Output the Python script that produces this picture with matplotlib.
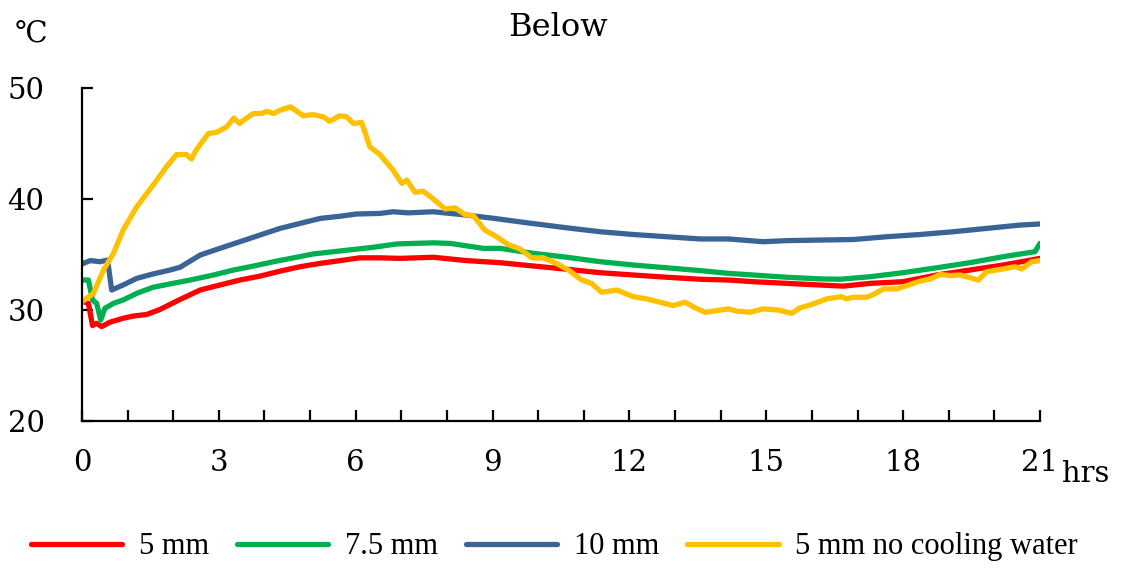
import matplotlib.pyplot as plt
import numpy as np

# temperature below the sample, hours vs degC
t_5mm = [0, 0.14, 0.23, 0.32, 0.43, 0.61, 0.9, 1.12, 1.42, 1.71, 2.15, 2.59, 3.02, 3.46, 3.9,
         4.34, 4.78, 5.22, 5.66, 6.09, 6.53, 6.97, 7.7, 8.43, 9.17, 9.9, 10.63, 11.36, 12.09,
         12.82, 13.55, 14.17, 14.72, 15.45, 16.18, 16.69, 17.28, 18.0, 18.73, 19.46, 20.19, 21.0]
T_5mm = [30.8, 30.6, 28.6, 28.8, 28.5, 28.9, 29.25, 29.45, 29.6, 30.05, 30.95, 31.8, 32.25, 32.7,
         33.05, 33.5, 33.9, 34.2, 34.45, 34.7, 34.7, 34.65, 34.75, 34.45, 34.26, 33.96, 33.67,
         33.36, 33.15, 32.95, 32.77, 32.7, 32.55, 32.4, 32.25, 32.15, 32.4, 32.55, 33.15, 33.6,
         34.05, 34.65]

t_75mm = [0, 0.14, 0.23, 0.32, 0.41, 0.5, 0.69, 0.9, 1.2, 1.56, 1.93, 2.37, 2.88, 3.32, 3.76,
          4.2, 4.64, 5.07, 5.51, 5.95, 6.39, 6.9, 7.7, 8.07, 8.8, 9.17, 9.9, 10.63, 11.36, 12.09,
          12.82, 13.55, 14.17, 14.72, 15.45, 16.18, 16.62, 17.28, 18.0, 18.73, 19.46, 20.19,
          20.89, 21.0]
T_75mm = [32.7, 32.7, 30.9, 30.6, 29.1, 30.15, 30.6, 30.9, 31.5, 32.05, 32.35, 32.7, 33.15, 33.6,
          33.96, 34.35, 34.7, 35.05, 35.25, 35.45, 35.65, 35.95, 36.05, 36.0, 35.55, 35.55, 35.1,
          34.75, 34.35, 34.05, 33.8, 33.55, 33.3, 33.15, 32.95, 32.8, 32.77, 33.0, 33.36, 33.8,
          34.26, 34.8, 35.25, 36.0]

t_10mm = [0, 0.18, 0.4, 0.56, 0.65, 0.9, 1.2, 1.56, 1.93, 2.15, 2.59, 3.02, 3.46, 3.9, 4.34, 4.78,
          5.22, 5.66, 6.02, 6.53, 6.82, 7.15, 7.7, 8.43, 9.02, 9.75, 10.63, 11.36, 12.09, 12.82,
          13.55, 14.17, 14.93, 15.45, 16.18, 16.91, 17.64, 18.37, 19.1, 19.83, 20.56, 21.0]
T_10mm = [34.15, 34.45, 34.35, 34.5, 31.8, 32.25, 32.85, 33.25, 33.6, 33.85, 34.95, 35.55, 36.15,
          36.75, 37.35, 37.8, 38.25, 38.45, 38.65, 38.7, 38.85, 38.75, 38.85, 38.55, 38.26, 37.86,
          37.4, 37.05, 36.8, 36.6, 36.4, 36.4, 36.15, 36.25, 36.3, 36.35, 36.6, 36.8, 37.05,
          37.35, 37.65, 37.75]

t_nocool = [0, 0.25, 0.47, 0.69, 0.9, 1.2, 1.64, 1.85, 2.07, 2.29, 2.4, 2.5, 2.77, 2.95, 3.17,
            3.33, 3.45, 3.61, 3.76, 3.94, 4.05, 4.2, 4.34, 4.57, 4.85, 5.07, 5.29, 5.43, 5.65,
            5.8, 5.95, 6.13, 6.31, 6.53, 6.82, 7.01, 7.12, 7.3, 7.48, 7.7, 7.96, 8.18, 8.39, 8.58,
            8.83, 9.09, 9.34, 9.6, 9.86, 10.11, 10.4, 10.7, 10.95, 11.17, 11.39, 11.72, 12.08,
            12.38, 12.67, 12.96, 13.22, 13.44, 13.66, 13.84, 14.17, 14.35, 14.64, 14.93, 15.26,
            15.56, 15.74, 15.96, 16.32, 16.65, 16.76, 16.91, 17.2, 17.35, 17.57, 17.86, 18.08,
            18.37, 18.59, 18.81, 19.03, 19.25, 19.65, 19.83, 20.19, 20.45, 20.6, 20.82, 21.0]
T_nocool = [30.75, 31.5, 33.6, 35.1, 37.2, 39.3, 41.7, 42.9, 44.0, 44.0, 43.6, 44.4, 45.9, 46.0,
            46.5, 47.3, 46.8, 47.3, 47.7, 47.7, 47.9, 47.7, 48.0, 48.3, 47.5, 47.6, 47.4, 47.0,
            47.5, 47.4, 46.8, 46.9, 44.7, 44.0, 42.6, 41.4, 41.7, 40.6, 40.7, 40.0, 39.1, 39.2,
            38.6, 38.5, 37.2, 36.6, 35.9, 35.5, 34.7, 34.7, 34.2, 33.5, 32.7, 32.4, 31.6, 31.8,
            31.2, 31.0, 30.7, 30.4, 30.7, 30.2, 29.8, 29.9, 30.1, 29.9, 29.8, 30.1, 30.0, 29.7,
            30.2, 30.45, 31.0, 31.2, 31.0, 31.15, 31.15, 31.4, 31.9, 31.9, 32.2, 32.6, 32.8, 33.2,
            33.1, 33.15, 32.7, 33.45, 33.7, 33.9, 33.7, 34.35, 34.45]

series = [
    ("5 mm", t_5mm, T_5mm, "#FF0000"),
    ("7.5 mm", t_75mm, T_75mm, "#00B050"),
    ("10 mm", t_10mm, T_10mm, "#3A6496"),
    ("5 mm no cooling water", t_nocool, T_nocool, "#FFC000"),
]

axis_font = "DejaVu Serif"
legend_font = "Liberation Serif"

fig = plt.figure(figsize=(11.22, 5.68), dpi=100)
ax = fig.add_axes([0.0731, 0.2588, 0.8538, 0.5863])

for label, t, T, c in series:
    ax.plot(t, T, color=c, lw=3.8, label=label, solid_capstyle="round",
            solid_joinstyle="round")

ax.set_xlim(0, 21)
ax.set_ylim(20, 50)
ax.set_xticks(np.arange(0, 22, 3))
ax.set_xticks(np.arange(0, 22, 1), minor=True)
ax.set_yticks([20, 30, 40, 50])

for s in ["top", "right"]:
    ax.spines[s].set_visible(False)
for s in ["left", "bottom"]:
    ax.spines[s].set_linewidth(1.6)

ax.tick_params(axis="both", which="both", direction="in", length=8, width=1.6)
ax.tick_params(axis="x", which="major", pad=20)
ax.tick_params(axis="y", which="major", pad=27)
for lab in ax.get_xticklabels() + ax.get_yticklabels():
    lab.set_fontfamily(axis_font)
    lab.set_fontsize(21)

fig.text(0.497, 0.951, "Below", ha="center", va="center", family=axis_font, fontsize=23)
fig.text(0.028, 0.94, "℃", ha="center", va="center", family=axis_font, fontsize=21)
fig.text(0.968, 0.165, "hrs", ha="center", va="center", family=axis_font, fontsize=21)

fig.legend(loc="center", bbox_to_anchor=(0.494, 0.037), ncol=4, frameon=False,
           prop={"family": legend_font, "size": 22}, handlelength=3.0,
           handletextpad=0.55, columnspacing=0.9)

fig.savefig("out.png", dpi=100)
